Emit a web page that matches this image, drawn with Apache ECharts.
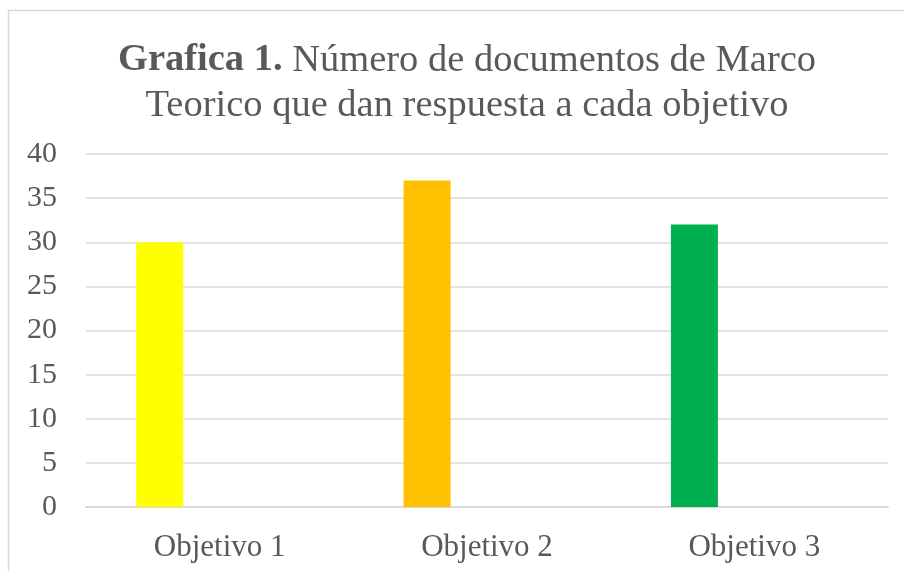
<!DOCTYPE html>
<html>
<head>
    <meta charset="utf-8">
    <script src="https://cdn.jsdelivr.net/npm/echarts@6/dist/echarts.min.js"></script>
    <style>
        html, body { margin: 0; padding: 0; background: #fff; }
    </style>
</head>
<body>
    <div id="main" style="width: 904px;height:571px;"></div>
    <script type="text/javascript">
        var categories = ['Objetivo 1', 'Objetivo 2', 'Objetivo 3'];
        var documentos = [30, 37, 32];
        var barColors = ['#FFFF00', '#FFC000', '#00B050'];
        var yTicks = [0, 5, 10, 15, 20, 25, 30, 35, 40];

        var myChart = echarts.init(document.getElementById('main'));
        var serif = '"Liberation Serif", "Times New Roman", serif';

        var option = {
            backgroundColor: '#fff',
            animation: false,
            graphic: [{
                type: 'rect',
                shape: { x: 8.5, y: 10.5, width: 1000, height: 1000 },
                style: { fill: 'none', stroke: '#d9d9d9', lineWidth: 1.5 },
                silent: true
            }],
            title: {
                text: '{b|Grafica 1.} Número de documentos de Marco\nTeorico que dan respuesta a cada objetivo',
                left: 462,
                textAlign: 'center',
                top: 33,
                textStyle: {
                    fontFamily: serif,
                    fontSize: 38.5,
                    fontWeight: 'normal',
                    color: '#595959',
                    lineHeight: 45,
                    rich: {
                        b: { fontFamily: serif, fontSize: 38.5, fontWeight: 'bold', color: '#595959', lineHeight: 45 }
                    }
                }
            },
            grid: { left: 86, right: 16, top: 154, bottom: 64, containLabel: false },
            xAxis: {
                type: 'category',
                data: categories,
                axisLine: { lineStyle: { color: '#d9d9d9', width: 2 } },
                axisTick: { show: false },
                axisLabel: { fontFamily: serif, fontSize: 31, color: '#595959', margin: 25 }
            },
            yAxis: {
                type: 'value',
                min: yTicks[0],
                max: yTicks[yTicks.length - 1],
                interval: 5,
                axisLine: { show: false },
                axisTick: { show: false },
                splitLine: { lineStyle: { color: '#d9d9d9', width: 1.5 } },
                axisLabel: { fontFamily: serif, fontSize: 30, color: '#595959', margin: 29 }
            },
            series: [{
                type: 'bar',
                barWidth: 47,
                barGap: '155%',
                data: documentos.map(function (v, i) {
                    return { value: v, itemStyle: { color: barColors[i] } };
                })
            }, {
                type: 'bar',
                barWidth: 47,
                data: categories.map(function () { return '-'; })
            }]
        };

        myChart.setOption(option);
    </script>
</body>
</html>
